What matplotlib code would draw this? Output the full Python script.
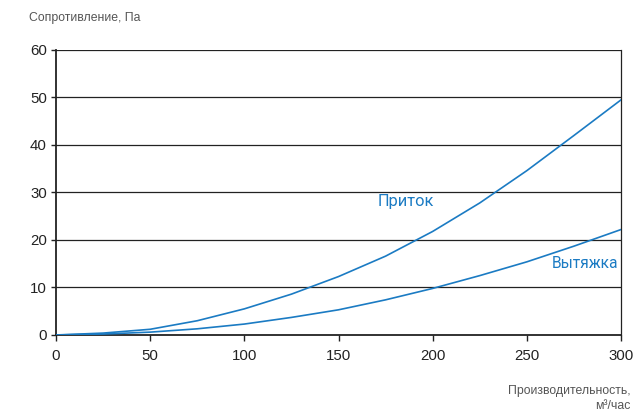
import matplotlib
matplotlib.use("Agg")
import matplotlib.pyplot as plt

plt.rcParams['font.family'] = ['Liberation Sans', 'DejaVu Sans']

# производительность, м3/час
flow = [0, 25, 50, 75, 100, 125, 150, 175, 200, 225, 250, 275, 300]
# сопротивление, Па
supply = [0, 0.4, 1.2, 3.0, 5.5, 8.6, 12.3, 16.6, 21.8, 27.8, 34.6, 42.0, 49.5]
exhaust = [0, 0.2, 0.6, 1.3, 2.3, 3.7, 5.3, 7.4, 9.8, 12.5, 15.4, 18.7, 22.2]

xticks = [0, 50, 100, 150, 200, 250, 300]
yticks = [0, 10, 20, 30, 40, 50, 60]

blue = "#1b7bc3"

fig = plt.figure(figsize=(6.35, 4.13), dpi=100)
ax = fig.add_axes([0.0882, 0.1889, 0.8898, 0.6901])

for y in yticks[1:]:
    ax.axhline(y, color="#222222", lw=0.9, zorder=1)

ax.plot(flow, supply, color=blue, lw=1.2, zorder=3)
ax.plot(flow, exhaust, color=blue, lw=1.2, zorder=3)

ax.text(171, 28.2, "Приток", color=blue, fontsize=11.8, family='Roboto',
        ha="left", va="center")
ax.text(263, 15.1, "Вытяжка", color=blue, fontsize=11.2, family='Roboto',
        ha="left", va="center")

ax.set_xlim(0, 300)
ax.set_ylim(0, 60)
ax.set_xticks(xticks)
ax.set_yticks(yticks)
ax.tick_params(axis="both", labelsize=10.8, colors="#222222", width=1)
ax.tick_params(axis="y", length=3.5, pad=3)
ax.tick_params(axis="x", length=4, pad=6)
ax.spines["top"].set_visible(False)
ax.spines["left"].set_linewidth(1.3)
ax.spines["bottom"].set_linewidth(1.3)
ax.spines["right"].set_linewidth(0.9)
for s in ax.spines.values():
    s.set_color("#222222")

fig.text(29 / 635, 1 - 18 / 413, "Сопротивление, Па", fontsize=8.8,
         color="#555555", ha="left", va="center")
fig.text(631 / 635, 1 - 391 / 413, "Производительность,", fontsize=8.8,
         color="#555555", ha="right", va="center")
fig.text(631 / 635, 1 - 406 / 413, "м³/час", fontsize=8.8,
         color="#555555", ha="right", va="center")

fig.savefig("out.png", dpi=100)
